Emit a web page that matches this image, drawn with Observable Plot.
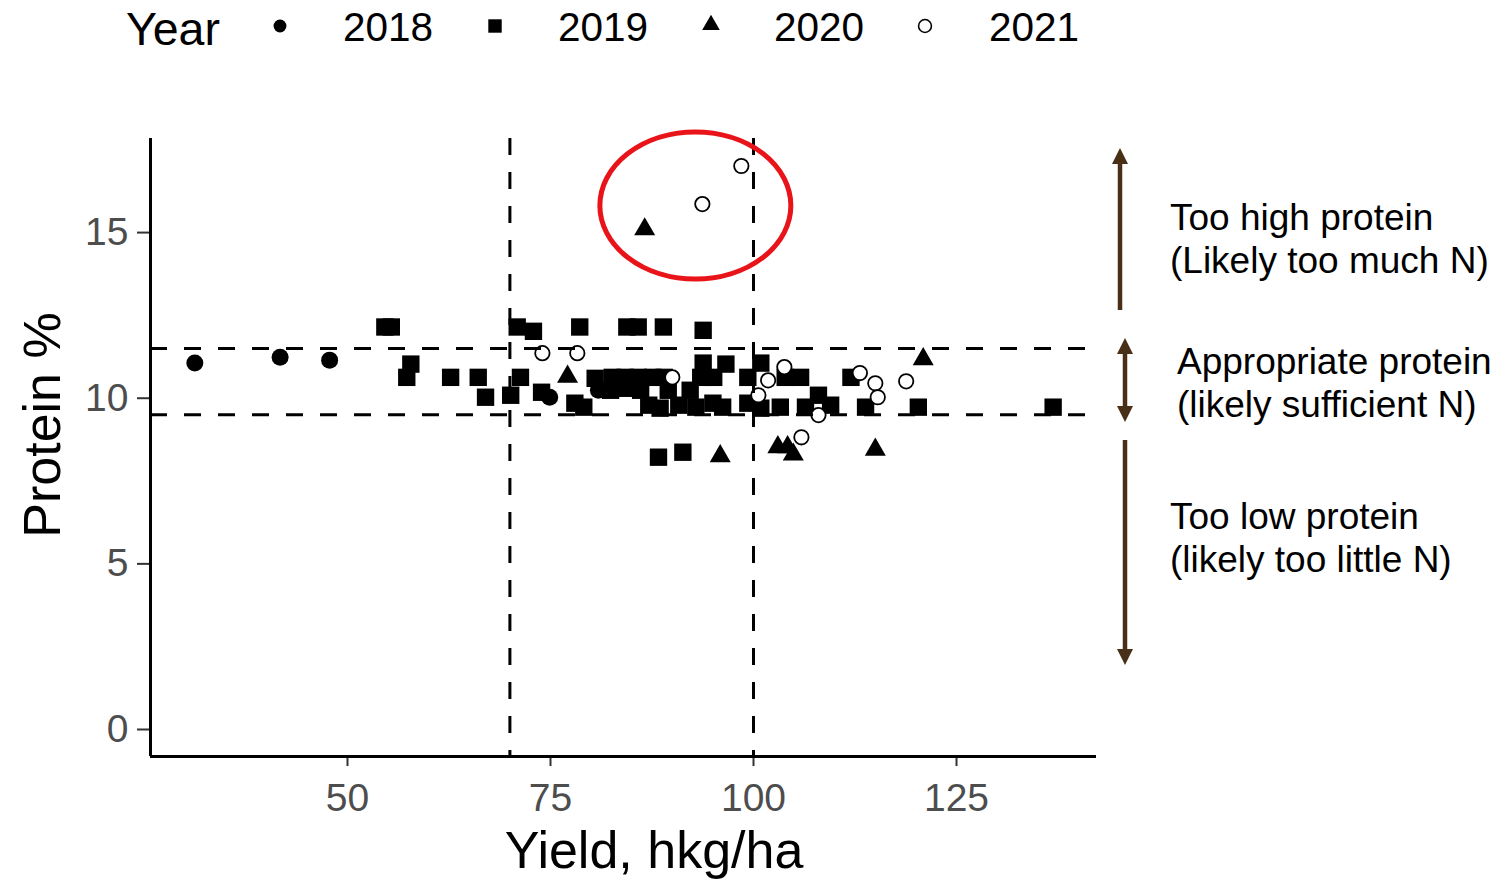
<!DOCTYPE html>
<html>
<head>
<meta charset="utf-8">
<script src="https://cdn.jsdelivr.net/npm/d3@7"></script>
<script src="https://cdn.jsdelivr.net/npm/@observablehq/plot@0.6"></script>
<style>
  html, body { margin: 0; padding: 0; background: #fff; }
  #page { position: relative; width: 1499px; height: 882px; overflow: hidden;
          font-family: "Liberation Sans", Arial, sans-serif; }
  #chart { position: absolute; left: 0; top: 90px; }
  #overlay { position: absolute; left: 0; top: 0; pointer-events: none; }
  #overlay text { font-family: "Liberation Sans", Arial, sans-serif; fill: #000; }
</style>
</head>
<body>
<div id="page">
  <div id="chart"></div>
  <svg id="overlay" width="1499" height="882"></svg>
</div>
<script>
// Yield (hkg/ha) and grain protein (%) per trial, one pair of arrays per year
const years = ["2018", "2019", "2020", "2021"];

const yield2018   = [31.2, 41.7, 47.8, 74.9, 80.9];
const protein2018 = [11.06, 11.24, 11.15, 10.03, 10.24];

const yield2019 = [54.6, 55.4, 57.8, 57.3, 62.7, 66.1, 67.0, 70.1, 71.3, 70.9, 72.9, 73.9,
  78.6, 84.4, 85.8, 88.9, 93.8, 79.1, 78.0, 80.5,
  82.6, 84.2, 85.8, 87.6, 89.0, 82.4, 84.5, 86.1, 89.5, 92.2, 87.1, 88.5, 90.8, 92.9, 95.0, 96.2,
  93.8, 96.6, 93.5, 95.1, 99.3, 100.9, 103.9, 105.8, 99.3, 100.9, 103.3, 106.4, 108.0, 109.5,
  112.0, 113.8, 120.3, 136.9, 88.3, 91.3];
const protein2019 = [12.15, 12.15, 11.03, 10.63, 10.63, 10.63, 10.03, 10.09, 10.63, 12.15, 12.02, 10.18,
  12.15, 12.15, 12.15, 12.15, 12.05, 9.73, 9.85, 10.6,
  10.63, 10.63, 10.63, 10.63, 10.63, 10.24, 10.3, 10.24, 10.24, 10.24, 9.79, 9.7, 9.79, 9.73, 9.85, 9.73,
  11.06, 11.03, 10.63, 10.63, 10.63, 11.06, 10.63, 10.63, 9.85, 9.70, 9.73, 9.73, 10.09, 9.79,
  10.63, 9.73, 9.73, 9.73, 8.22, 8.37];

const yield2020   = [86.6, 77.1, 95.9, 103.0, 104.2, 104.9, 115.0, 120.9];
const protein2020 = [15.1, 10.65, 8.25, 8.52, 8.52, 8.3, 8.45, 11.18];

const yield2021   = [98.5, 93.7, 74.0, 78.3, 90.0, 100.6, 101.8, 103.8, 113.1, 115.0, 115.3, 118.8, 108.0, 105.9];
const protein2021 = [17.01, 15.86, 11.36, 11.36, 10.63, 10.09, 10.54, 10.94, 10.76, 10.45, 10.03, 10.51, 9.49, 8.82];

// Reference thresholds
const proteinLimits = [9.5, 11.5];
const yieldLimits = [70, 100];

const xTicks = [50, 75, 100, 125];
const yTicks = [0, 5, 10, 15];

// Highlighted group of high-protein trials: centre and radii in data units
const highlight = { x: 92.9, y: 15.8, rx: 11.76, ry: 2.22 };

const toRows = (xs, ys) => xs.map((x, i) => ({ yield: x, protein: ys[i] }));
const d2018 = toRows(yield2018, protein2018);
const d2019 = toRows(yield2019, protein2019);
const d2020 = toRows(yield2020, protein2020);
const d2021 = toRows(yield2021, protein2021);

const xDomain = [25.74, 142.24];
const yDomain = [-0.815, 17.84];

const chart = Plot.plot({
  width: 1110,
  height: 792,
  marginLeft: 150,
  marginRight: 14,
  marginTop: 48,
  marginBottom: 126,
  x: { domain: xDomain, ticks: xTicks, tickSize: 10, tickPadding: 17, label: null },
  y: { domain: yDomain, ticks: yTicks, tickSize: 13, tickPadding: 9, label: null },
  style: {
    fontFamily: '"Liberation Sans", Arial, sans-serif',
    fontSize: "39px",
    color: "#4d4d4d",
    background: "transparent",
    overflow: "visible"
  },
  marks: [
    Plot.dot(d2018, { x: "yield", y: "protein", symbol: "circle", fill: "#000", r: 8.5 }),
    Plot.dot(d2019, { x: "yield", y: "protein", symbol: "square", fill: "#000", r: 9.8 }),
    Plot.dot(d2020, { x: "yield", y: "protein", symbol: "triangle", fill: "#000", r: 7.8 }),
    Plot.dot(d2021, { x: "yield", y: "protein", symbol: "circle", fill: "#fff", stroke: "#000", strokeWidth: 1.8, r: 7.2 }),
    Plot.ruleY(proteinLimits, { stroke: "#000", strokeWidth: 3, strokeDasharray: "17,17" }),
    Plot.ruleX(yieldLimits, { stroke: "#000", strokeWidth: 3, strokeDasharray: "17,17" }),
    Plot.ruleX([xDomain[0]], { stroke: "#000", strokeWidth: 3 }),
    Plot.ruleY([yDomain[0]], { stroke: "#000", strokeWidth: 3 })
  ]
});

// tick marks in a darker grey than the labels
d3.select(chart).selectAll('[aria-label$="-axis tick"]').attr("stroke", "#333").attr("stroke-width", 2);

// red ellipse around the high-protein trials, placed through the plot scales
const sx = chart.scale("x"), sy = chart.scale("y");
const cx = sx.apply(highlight.x), cy = sy.apply(highlight.y);
d3.select(chart).append("ellipse")
  .attr("cx", cx).attr("cy", cy)
  .attr("rx", Math.abs(sx.apply(highlight.x + highlight.rx) - cx))
  .attr("ry", Math.abs(sy.apply(highlight.y + highlight.ry) - cy))
  .attr("fill", "none").attr("stroke", "#e8141a").attr("stroke-width", 5);

document.getElementById("chart").appendChild(chart);

// ---- titles, legend and side annotations ----
const ov = d3.select("#overlay");

// axis titles
ov.append("text").attr("x", 654).attr("y", 868).attr("text-anchor", "middle")
  .attr("font-size", 52).text("Yield, hkg/ha");
ov.append("text").attr("transform", "translate(60,425) rotate(-90)").attr("text-anchor", "middle")
  .attr("font-size", 52).text("Protein %");

// legend
ov.append("text").attr("x", 126).attr("y", 45).attr("font-size", 46.5).text("Year");
const legendSymbols = [
  { key: years[0], sx: 280, lx: 343, type: d3.symbolCircle, size: 130, fill: "#000", stroke: "none" },
  { key: years[1], sx: 495, lx: 558, type: d3.symbolSquare, size: 180, fill: "#000", stroke: "none" },
  { key: years[2], sx: 711, lx: 774, type: d3.symbolTriangle, size: 135, fill: "#000", stroke: "none" },
  { key: years[3], sx: 925, lx: 989, type: d3.symbolCircle, size: 130, fill: "none", stroke: "#000" }
];
for (const s of legendSymbols) {
  ov.append("path")
    .attr("transform", `translate(${s.sx},${s.key === "2020" ? 25 : 26})`)
    .attr("d", d3.symbol(s.type, s.size)())
    .attr("fill", s.fill).attr("stroke", s.stroke).attr("stroke-width", 1.6);
  ov.append("text").attr("x", s.lx).attr("y", 41).attr("font-size", 40.5).text(s.key);
}

// arrows marking the protein bands
const brown = "#4a2f18";
function head(x, y, dir) {
  // dir = -1 points up, +1 points down
  const w = 8, len = 16;
  ov.append("path")
    .attr("d", `M${x},${y} L${x - w},${y - dir * len} L${x + w},${y - dir * len} Z`)
    .attr("fill", brown);
}
function shaft(x, y1, y2) {
  ov.append("line").attr("x1", x).attr("x2", x).attr("y1", y1).attr("y2", y2)
    .attr("stroke", brown).attr("stroke-width", 4.5);
}
shaft(1120, 160, 310); head(1120, 148, -1);
shaft(1125, 350, 410); head(1125, 338, -1); head(1125, 422, 1);
shaft(1125, 440, 653); head(1125, 665, 1);

// band labels
const bandLabels = [
  { x: 1170, y: 230, t: "Too high protein" },
  { x: 1170, y: 273, t: "(Likely too much N)" },
  { x: 1177, y: 374, t: "Appropriate protein" },
  { x: 1177, y: 417, t: "(likely sufficient N)" },
  { x: 1170, y: 529, t: "Too low protein" },
  { x: 1170, y: 572, t: "(likely too little N)" }
];
for (const b of bandLabels) {
  ov.append("text").attr("x", b.x).attr("y", b.y).attr("font-size", 37).text(b.t);
}
</script>
</body>
</html>
